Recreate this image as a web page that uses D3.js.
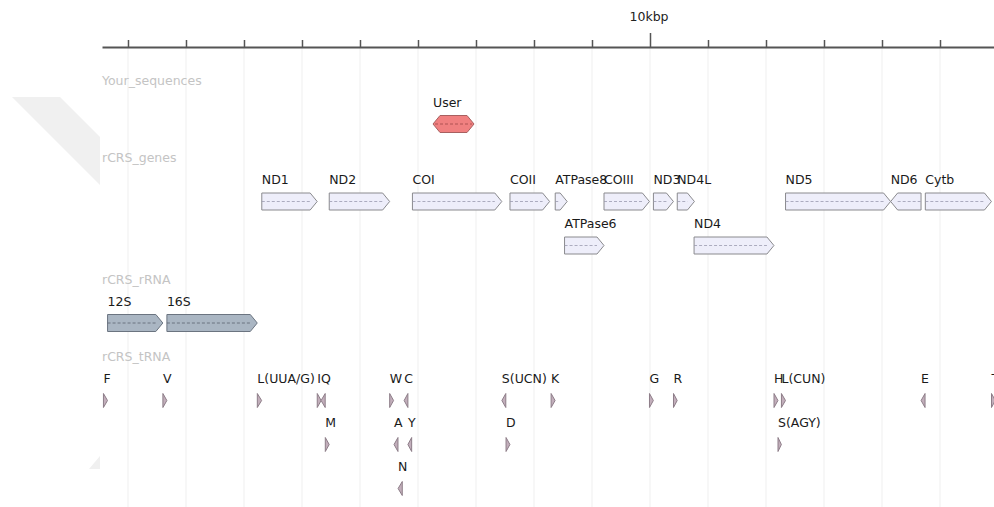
<!DOCTYPE html>
<html>
<head>
<meta charset="utf-8">
<script src="https://cdn.jsdelivr.net/npm/d3@7"></script>
<style>
  body { margin: 0; background: #fff; }
  svg { display: block; font-family: "DejaVu Sans", sans-serif; }
</style>
</head>
<body>
<svg id="browser_svg" width="994" height="507"></svg>
<script>
// view window on the rCRS mitogenome (bp)
var viewStart = 552, viewEnd = 15931;
var tickValues = [1000, 2000, 3000, 4000, 5000, 6000, 7000, 8000, 9000, 10000, 11000, 12000, 13000, 14000, 15000];
var majorTick = 10000;
var majorTickLabel = "10kbp";

var trackNames = ["Your_sequences", "rCRS_genes", "rCRS_rRNA", "rCRS_tRNA"];

// Your_sequences
var userNames = ["User"];
var userStarts = [6259];
var userEnds = [6966];
var userStrands = [0];
var userLanes = [0];

// rCRS_genes
var geneNames = ["ND1", "ND2", "COI", "COII", "ATPase8", "ATPase6", "COIII", "ND3", "ND4L", "ND4", "ND5", "ND6", "Cytb"];
var geneStarts = [3307, 4470, 5904, 7586, 8366, 8527, 9207, 10059, 10470, 10760, 12337, 14149, 14747];
var geneEnds = [4262, 5511, 7445, 8269, 8572, 9207, 9990, 10404, 10766, 12137, 14148, 14673, 15887];
var geneStrands = [1, 1, 1, 1, 1, 1, 1, 1, 1, 1, 1, -1, 1];
var geneLanes = [0, 0, 0, 0, 0, 1, 0, 0, 0, 1, 0, 0, 0];

// rCRS_rRNA
var rrnaNames = ["12S", "16S"];
var rrnaStarts = [648, 1671];
var rrnaEnds = [1601, 3229];
var rrnaStrands = [1, 1];
var rrnaLanes = [0, 0];

// rCRS_tRNA
var trnaNames = ["F", "V", "L(UUA/G)", "I", "Q", "M", "W", "A", "N", "C", "Y", "S(UCN)", "D", "K", "G", "R", "H", "S(AGY)", "L(CUN)", "E", "T"];
var trnaStarts = [577, 1602, 3230, 4263, 4329, 4402, 5512, 5587, 5657, 5761, 5826, 7446, 7518, 8295, 9991, 10405, 12138, 12207, 12266, 14674, 15888];
var trnaEnds = [647, 1670, 3304, 4331, 4400, 4469, 5579, 5655, 5729, 5826, 5891, 7514, 7585, 8364, 10058, 10469, 12206, 12265, 12336, 14742, 15953];
var trnaStrands = [1, 1, 1, 1, -1, 1, 1, -1, -1, -1, -1, -1, 1, 1, 1, 1, 1, 1, 1, -1, 1];
var trnaLanes = [0, 0, 0, 0, 0, 1, 0, 1, 2, 0, 1, 0, 1, 0, 0, 0, 0, 1, 0, 0, 0];

function makeFeatures(names, starts, ends, strands, lanes) {
  return names.map((n, i) => ({ name: n, start: starts[i], end: ends[i], strand: strands[i], lane: lanes[i] }));
}

var tracks = [
  { name: trackNames[0], features: makeFeatures(userNames, userStarts, userEnds, userStrands, userLanes),
    fill: "#f08080", stroke: "#a86060", dash: "#a04848" },
  { name: trackNames[1], features: makeFeatures(geneNames, geneStarts, geneEnds, geneStrands, geneLanes),
    fill: "#eeeefa", stroke: "#8a8a8e", dash: "#9a9ab0" },
  { name: trackNames[2], features: makeFeatures(rrnaNames, rrnaStarts, rrnaEnds, rrnaStrands, rrnaLanes),
    fill: "#aab6c3", stroke: "#6b7480", dash: "#5a6270" },
  { name: trackNames[3], features: makeFeatures(trnaNames, trnaStarts, trnaEnds, trnaStrands, trnaLanes),
    fill: "#c2aebb", stroke: "#8d7d88", dash: "#7a6a74" }
];

var svg = d3.select("#browser_svg");
var W = 994, H = 507;
var left = 102, axisY = 47;
var fontSize = "12.5px";

var x = d3.scaleLinear().domain([viewStart, viewEnd]).range([left, W]);

// faint watermark peeking out on the left
var wm = svg.append("g").attr("fill", "#f0f0f0");
wm.append("polygon").attr("points", "12,97 60,97 100,137 100,185");
wm.append("polygon").attr("points", "100,456 100,469 89,469");

svg.append("defs").append("clipPath").attr("id", "view_clip")
  .append("rect").attr("x", left).attr("y", 0).attr("width", W - left).attr("height", H);

// grid lines
svg.append("g")
  .selectAll("line")
  .data(tickValues)
  .enter()
  .append("line")
  .attr("x1", d => x(d)).attr("x2", d => x(d))
  .attr("y1", axisY).attr("y2", H)
  .style("stroke", "#efefef")
  .style("stroke-width", 1);

// axis
var axis = svg.append("g")
  .attr("transform", "translate(0," + axisY + ")")
  .call(d3.axisTop(x).tickValues(tickValues).tickSize(7).tickSizeOuter(0).tickFormat(""));
axis.select(".domain").attr("stroke", "#555").attr("stroke-width", 2);
axis.selectAll(".tick line").attr("stroke", "#555").attr("stroke-width", 1.5);
axis.selectAll(".tick").filter(d => d === majorTick).select("line").attr("y2", -14);
svg.append("text")
  .attr("x", x(majorTick) - 1)
  .attr("y", 21)
  .attr("text-anchor", "middle")
  .style("font-size", fontSize)
  .style("fill", "#222")
  .text(majorTickLabel);

// feature outline
var shapeH = 17, half = shapeH / 2, head = 7;
function featurePath(d, yc) {
  var x0 = x(d.start), x1 = x(d.end), w = x1 - x0;
  var top = yc - half, bot = yc + half;
  if (d.strand === 0) {
    var hh = Math.min(head, w / 2);
    return [[x0, yc], [x0 + hh, top], [x1 - hh, top], [x1, yc], [x1 - hh, bot], [x0 + hh, bot]];
  }
  if (w < head) {
    var th = 7;
    if (d.strand > 0) return [[x0, yc - th], [x1, yc], [x0, yc + th]];
    return [[x1, yc - th], [x0, yc], [x1, yc + th]];
  }
  if (d.strand > 0) return [[x0, top], [x1 - head, top], [x1, yc], [x1 - head, bot], [x0, bot]];
  return [[x0, yc], [x0 + head, top], [x1, top], [x1, bot], [x0 + head, bot]];
}
function dashExtent(d) {
  var x0 = x(d.start), x1 = x(d.end);
  if (d.strand === 0) return [x0 + 2, x1 - 2];
  if (d.strand > 0) return [x0, x1 - head];
  return [x0 + head, x1];
}

var plot = svg.append("g").attr("clip-path", "url(#view_clip)");

var trackY = 80;
tracks.forEach(function (track) {
  var nLanes = d3.max(track.features, f => f.lane) + 1;

  svg.append("text")
    .attr("x", left)
    .attr("y", trackY + 4.5)
    .style("font-size", fontSize)
    .style("fill", "#c4c4c4")
    .text(track.name);

  var g = plot.append("g");
  var feats = g.selectAll(".feature")
    .data(track.features)
    .enter()
    .append("g")
    .attr("class", "feature");

  var baseY = trackY;
  feats.append("polygon")
    .attr("points", d => featurePath(d, baseY + 44 + 44 * d.lane).join(" "))
    .style("fill", track.fill)
    .style("stroke", track.stroke)
    .style("stroke-width", 1);

  feats.filter(d => x(d.end) - x(d.start) > head + 4)
    .append("line")
    .attr("x1", d => dashExtent(d)[0])
    .attr("x2", d => dashExtent(d)[1])
    .attr("y1", d => baseY + 44 + 44 * d.lane)
    .attr("y2", d => baseY + 44 + 44 * d.lane)
    .style("stroke", track.dash)
    .style("stroke-width", 0.8)
    .style("stroke-dasharray", "3,2");

  feats.append("text")
    .attr("x", d => x(d.start))
    .attr("y", d => baseY + 22 + 44 * d.lane + 4.5)
    .style("font-size", fontSize)
    .style("fill", "#1a1a1a")
    .text(d => d.name);

  trackY += 33.5 + 44 * nLanes;
});
</script>
</body>
</html>
